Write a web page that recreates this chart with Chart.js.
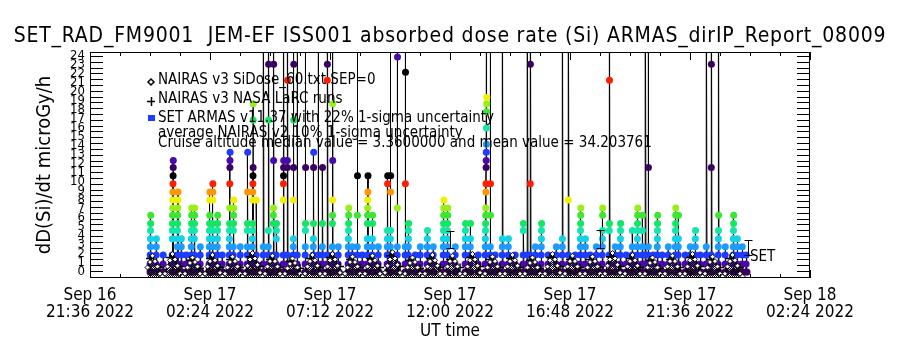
<!DOCTYPE html>
<html>
<head>
<meta charset="utf-8">
<script src="https://cdn.jsdelivr.net/npm/chart.js@4.4.1/dist/chart.umd.min.js"></script>
<style>
  html, body { margin: 0; padding: 0; background: #fff; }
</style>
</head>
<body>
<canvas id="chart" width="900" height="350"></canvas>
<script>
// Zeit in Stunden ab Sep 16 2022 21:36 UT
const startUTC = Date.UTC(2022, 8, 16, 21, 36);
const xTickHours = [0, 4.8, 9.6, 14.4, 19.2, 24, 28.8];
const yTickValues = [0, 1, 2, 3, 4, 5, 6, 7, 8, 9, 10, 11, 12, 13, 14, 15, 16, 17, 18, 19, 20, 21, 22, 23, 24];

// SET ARMAS: Durchgänge (Startzeit) und die Dosiswerte jedes Durchgangs
const armasPassTimes = [
  2.40, 2.64, 2.92, 3.28, 3.48, 3.64, 3.84, 4.04, 4.16, 4.40, 4.76, 4.88, 5.08, 5.28, 5.56, 5.72, 6.00, 6.28, 6.48, 6.64,
  6.92, 7.12, 7.32, 7.44, 7.72, 7.88, 8.12, 8.28, 8.60, 8.92, 9.12, 9.28, 9.48, 9.68, 9.92, 10.32, 10.48, 10.68, 10.88, 11.08,
  11.28, 11.52, 11.88, 12.00, 12.28, 12.60, 12.72, 13.00, 13.20, 13.48, 13.72, 14.12, 14.28, 14.60, 15.00, 15.20, 15.52, 15.80, 16.00, 16.20,
  16.48, 16.72, 17.00, 17.32, 17.48, 17.60, 17.80, 18.04, 18.32, 18.64, 18.88, 19.12, 19.40, 19.60, 19.80, 20.00, 20.24, 20.48, 20.76, 21.00,
  21.20, 21.44, 21.68, 21.88, 22.08, 22.20, 22.32, 22.52, 22.68, 22.88, 23.12, 23.40, 23.52, 23.80, 24.00, 24.20, 24.40, 24.64, 24.84, 25.12,
  25.40, 25.72, 25.88, 26.08, 26.24
];
const armasPassDoses = [
  [0.9,1.9,2.8,3.7,4.6,5.4,6.3], [0.9,1.9,2.8,3.7], [0.9,1.9],
  [0.9,1.9,3.7,4.6,5.4,6.3,7.1,8.0,8.9,9.8,10.7,11.6,12.4], [0.9,1.9,2.8,3.7,4.6,5.4,6.3,7.1,8.0,8.9],
  [0.9,1.9,2.8,3.7], [0.9,1.9], [0.9,1.9,2.8,3.7,4.6,5.4,6.3,7.1], [0.9,1.9,3.7,4.6,5.4,6.3,7.1], [0.9,1.9,2.8],
  [0.9,1.9,2.8,3.7,4.6,5.4,6.3,8.0,8.9], [0.9,1.9,2.8,3.7,4.6,5.4,8.0,8.9,9.8], [0.9,1.9,2.8,3.7,4.6,5.4,6.3], [0.9,1.9],
  [0.9,1.9,2.8,3.7,4.6,5.4,7.1,9.8,11.6,12.4,13.3], [0.9,1.9,2.8,4.6,5.4,6.3,7.1,8.0], [0.9,1.9,2.8],
  [0.9,1.9,2.8,4.6,5.4,8.9,13.3], [0.9,1.9,2.8,3.7,4.6,5.4,8.0,8.9,9.8,10.7,11.6,16.9,18.7], [0.9,1.9,8.0],
  [0.9,1.9,2.8,40], [0.9,1.9,2.8,4.6,16.9,23.1,40], [0.9,1.9,5.4,6.3,7.1,12.4,23.1,40], [0.9,1.9,3.7,4.6,5.4],
  [0.9,1.9,8.0,9.8,10.7,11.6,12.4,40], [0.9,1.9,11.6,12.4,21.3,40], [0.9,1.9,2.8,3.7,8.0,11.6,16.9,23.1,40], [0.9,1.9,40],
  [0.9,1.9,2.8,4.6,5.4,11.6,40], [0.9,1.9,2.8,3.7,5.4,11.6,13.3], [0.9,1.9,40], [0.9,1.9,2.8,5.4,11.6],
  [0.9,1.9,21.3,23.1,40], [0.9,1.9,2.8,5.4,6.3,8.0,12.4,18.7,40], [0.9,1.9,2.8], [0.9,1.9,2.8,3.7,4.6,5.4,6.3,7.1],
  [0.9,1.9,2.8], [0.9,1.9,2.8,6.3,10.7,40], [0.9,1.9], [0.9,1.9,2.8,3.7,5.4,6.3,7.1,8.0,8.9,10.7],
  [0.9,1.9,2.8,3.7,5.4,6.3], [0.9,1.9,2.8], [0.9,1.9,2.8,3.7,4.6,9.8,10.7], [0.9,1.9,2.8,3.7,4.6,8.9,10.7,40],
  [0.9,1.9,2.8,7.1,23.9,40], [0.9,1.9,2.8,9.8,22.2,40], [0.9,1.9,2.8,3.7,4.6,5.4], [0.9,1.9], [0.9,1.9,2.8],
  [0.9,1.9,2.8,3.7,4.6], [0.9,1.9,2.8], [0.9,1.9,2.8,3.7,4.6,5.4,6.3,7.1,8.0], [0.9,1.9,2.8,3.7,4.6,5.4,6.3,7.1],
  [0.9,1.9,2.8], [0.9,1.9,2.8,3.7,4.6,5.4], [0.9,1.9,2.8,3.7,5.4], [0.9,1.9],
  [0.9,1.9,2.8,3.7,4.6,5.4,6.3,7.1,8.9,9.8,11.6,12.4,13.3,14.2,16.0,17.8,18.7,19.4,40], [0.9,1.9,2.8,6.3,9.8,40], [0.9,1.9],
  [0.9,1.9,2.8,3.7,40], [0.9,1.9,2.8,3.7], [0.9,1.9], [0.9,1.9,4.6,5.4], [0.9,1.9,40], [0.9,1.9,9.8,23.1,40],
  [0.9,1.9,2.8], [0.9,1.9,2.8,3.7,4.6,5.4], [0.9,1.9], [0.9,1.9,2.8], [0.9,1.9,2.8,3.7,40], [0.9,1.9,8.0,40],
  [0.9,1.9], [0.9,1.9,2.8,3.7,4.6,5.4,6.3,7.1], [0.9,1.9,2.8,3.7], [0.9,1.9], [0.9,1.9,2.8],
  [0.9,1.9,2.8,3.7,4.6,6.3,7.1], [0.9,1.9,4.6,5.4,21.3,40], [0.9,1.9,2.8], [0.9,1.9,2.8,3.7,4.6,5.4], [0.9,1.9],
  [0.9,1.9,2.8,4.6], [0.9,1.9,2.8,3.7,4.6,5.4,6.3,7.1], [0.9,1.9,2.8,4.6,6.3], [0.9,1.9,40], [0.9,1.9,2.8,11.6,40],
  [0.9,1.9], [0.9,1.9,2.8,3.7,4.6,5.4,6.3], [0.9,1.9], [0.9,1.9,2.8], [0.9,1.9,2.8,3.7,4.6,5.4,6.3,7.1],
  [0.9,1.9,2.8,3.7,6.3], [0.9,1.9], [0.9,1.9,2.8], [0.9,1.9,2.8,3.7,4.6], [0.9,1.9], [0.9,1.9,2.8,40],
  [0.9,1.9,11.6,23.1,40], [0.9,1.9,2.8,3.7,4.6,6.3,40], [0.9,1.9,2.8], [0.9,1.9,2.8,3.7,4.6,5.4,6.3],
  [0.9,1.9,2.8,3.7], [0.9,1.9,2.8], [0.9,1.9]
];

// NAIRAS v3 SiDose (alle 0.1 h ab 2.3 h)
const nairasStart = 2.3;
const nairasStep = 0.1;
const nairasDose = [
  0.5,1.1,1.8,1.2,0.6,-0.2,-0.5,
  -0.2,0.6,1.3,2.0,1.4,0.7,-0.2,-0.5,  -0.2,0.5,1.0,1.6,1.1,0.6,-0.2,-0.5,  -0.2,0.6,1.2,1.9,1.3,0.7,-0.1,-0.5,
  -0.2,0.5,1.1,1.7,1.2,0.6,-0.2,-0.5,  -0.2,0.7,1.4,2.1,1.5,0.8,-0.1,-0.5,  -0.2,0.6,1.2,1.8,1.2,0.6,-0.2,-0.5,
  -0.2,0.4,0.9,1.5,1.0,0.5,-0.2,-0.5,  -0.2,0.6,1.2,1.9,1.3,0.7,-0.2,-0.5,  -0.2,0.6,1.3,2.0,1.4,0.7,-0.1,-0.5,
  -0.2,0.5,1.1,1.7,1.1,0.6,-0.2,-0.5,  -0.2,0.6,1.2,1.8,1.3,0.7,-0.2,-0.5,  -0.1,0.7,1.4,2.2,1.5,0.8,-0.1,-0.5,
  -0.2,0.5,1.0,1.6,1.1,0.5,-0.2,-0.5,  -0.2,0.6,1.2,1.9,1.3,0.7,-0.2,-0.5,  -0.2,0.6,1.2,1.8,1.2,0.6,-0.2,-0.5,
  -0.2,0.6,1.3,2.0,1.4,0.7,-0.1,-0.5,  -0.2,0.5,1.1,1.7,1.2,0.6,-0.2,-0.5,  -0.2,0.6,1.2,1.9,1.3,0.7,-0.2,-0.5,
  -0.2,0.5,1.0,1.6,1.1,0.5,-0.2,-0.5,  -0.2,0.6,1.3,2.0,1.4,0.7,-0.1,-0.5,  -0.2,0.6,1.2,1.8,1.2,0.6,-0.2,-0.5,
  -0.2,0.5,1.1,1.7,1.2,0.6,-0.2,-0.5,  -0.2,0.7,1.4,2.1,1.5,0.8,-0.1,-0.5,  -0.2,0.6,1.2,1.9,1.3,0.7,-0.2,-0.5,
  -0.2,0.5,1.0,1.6,1.1,0.5,-0.2,-0.5,  -0.2,0.6,1.2,1.8,1.2,0.6,-0.2,-0.5,  -0.2,0.6,1.3,2.0,1.4,0.7,-0.1,-0.5,
  -0.2,0.5,1.1,1.7,1.2,0.6,-0.2,-0.5,  -0.2,0.6,1.2,1.9,1.3,0.7,-0.2,-0.5
];

// NAIRAS v3 NASA LaRC (alle 0.4 h ab 2.4 h)
const larcStart = 2.4;
const larcStep = 0.4;
const larcDose = [
  1.5,0.5, 1.6,0.6, 1.3,0.4, 1.5,0.5, 1.4,0.5, 1.7,0.6, 1.4,0.5, 1.2,0.4, 1.5,0.5, 1.6,0.6,
  1.4,0.5, 1.5,0.5, 1.8,0.6, 1.3,0.4, 1.5,0.5, 1.4,0.5, 1.6,0.6, 1.4,0.5, 1.5,0.5, 1.3,0.4,
  1.6,0.6, 1.4,0.5, 1.4,0.5, 1.7,0.6, 1.5,0.5, 1.3,0.4, 1.4,0.5, 1.6,0.6, 1.4,0.5, 1.5,0.5
];

// Fehlerbalken (average NAIRAS 10%)
const errTimes = [14.4, 20.4, 26.3];
const errLow = [2.7, 2.7, 1.9];
const errHigh = [4.6, 4.7, 3.5];

const fontFam = '"DejaVu Sans Condensed", "Liberation Sans Narrow", "DejaVu Sans", sans-serif';
Chart.defaults.font.family = fontFam;
Chart.defaults.color = '#000';

// Farbtabelle wiederholt sich alle 13 Stufen
const dosePalette = ['#3c0064', '#4a08b0', '#1e3cff', '#1e9bff', '#14d2e6', '#14e6aa', '#14e664',
                     '#3ce632', '#96f014', '#f0f000', '#ff9600', '#ff1e00', '#000000'];
function doseColor(v) {
  const k = Math.round(v / 0.885);
  return dosePalette[k % 13];
}

const armasPoints = [];
armasPassTimes.forEach((t, i) => {
  armasPoints.push({ x: t, y: 0 });
  armasPassDoses[i].forEach((v, j) => armasPoints.push({ x: t + 0.004 * (j + 1), y: v }));
  armasPoints.push({ x: t + 0.04, y: 0 });
});
const nairasPoints = nairasDose.map((v, i) => ({ x: nairasStart + nairasStep * i, y: v }));
const larcPoints = larcDose.map((v, i) => ({ x: larcStart + larcStep * i, y: v }));

// Schachbrettmuster für die NAIRAS-Dreiecke
const canvas = document.getElementById('chart');
const pc = document.createElement('canvas');
pc.width = 2; pc.height = 2;
const pctx = pc.getContext('2d');
pctx.fillStyle = '#000';
pctx.fillRect(0, 0, 1, 1);
pctx.fillRect(1, 1, 1, 1);
const checker = canvas.getContext('2d').createPattern(pc, 'repeat');

function fmtTick(h) {
  const d = new Date(startUTC + Math.round(h * 60) * 60000);
  const mon = ['Jan','Feb','Mar','Apr','May','Jun','Jul','Aug','Sep','Oct','Nov','Dec'][d.getUTCMonth()];
  const dd = String(d.getUTCDate()).padStart(2, '0');
  const hh = String(d.getUTCHours()).padStart(2, '0');
  const mm = String(d.getUTCMinutes()).padStart(2, '0');
  return [mon + ' ' + dd, hh + ':' + mm + ' ' + d.getUTCFullYear()];
}

// Rahmen, Ticks nach innen, Texte
const idlPlugin = {
  id: 'idlFrame',
  afterDatasetsDraw(chart) {
    const { ctx, chartArea: a, scales: { x, y } } = chart;
    ctx.save();
    ctx.strokeStyle = '#000';
    ctx.lineWidth = 1;
    ctx.strokeRect(a.left + 0.5, a.top + 0.5, a.right - a.left - 1, a.bottom - a.top - 1);
    ctx.beginPath();
    for (let h = 0; h <= 28.8 + 1e-6; h += 1.2) {
      const px = Math.round(x.getPixelForValue(h)) + 0.5;
      const major = Math.abs(h / 4.8 - Math.round(h / 4.8)) < 1e-6;
      const len = major ? 8 : 4;
      ctx.moveTo(px, a.bottom); ctx.lineTo(px, a.bottom - len);
      ctx.moveTo(px, a.top); ctx.lineTo(px, a.top + len);
    }
    for (let v = 24; v >= y.min; v -= 0.645) {
      const py = Math.round(y.getPixelForValue(v)) + 0.5;
      ctx.moveTo(a.left, py); ctx.lineTo(a.left + 13, py);
      ctx.moveTo(a.right, py); ctx.lineTo(a.right - 13, py);
    }
    // Fehlerbalken
    errTimes.forEach((t, i) => {
      const px = Math.round(x.getPixelForValue(t)) + 0.5;
      const y1 = Math.round(y.getPixelForValue(errLow[i])) + 0.5;
      const y2 = Math.round(y.getPixelForValue(errHigh[i])) + 0.5;
      ctx.moveTo(px, y1); ctx.lineTo(px, y2);
      ctx.moveTo(px - 4, y1); ctx.lineTo(px + 4, y1);
      ctx.moveTo(px - 4, y2); ctx.lineTo(px + 4, y2);
    });
    ctx.stroke();

    // Titel
    ctx.fillStyle = '#000';
    ctx.textBaseline = 'middle';
    ctx.textAlign = 'center';
    ctx.font = '21px ' + fontFam;
    ctx.letterSpacing = '0.8px';
    ctx.fillText('SET_RAD_FM9001  JEM-EF ISS001 absorbed dose rate (Si) ARMAS_dirIP_Report_08009', 450, 37);
    ctx.letterSpacing = '0px';

    // Legende
    ctx.textAlign = 'left';
    ctx.font = '15px ' + fontFam;
    const lx = a.left + 68;
    ctx.fillText('NAIRAS v3 SiDose_60.txt SEP=0', lx, a.top + 28);
    ctx.fillText('NAIRAS v3 NASA LaRC runs', lx, a.top + 47);
    ctx.fillText('SET ARMAS v11.37 with 22% 1-sigma uncertainty', lx, a.top + 66);
    ctx.fillText('average NAIRAS v2 10% 1-sigma uncertainty', lx, a.top + 81);
    ctx.fillText('Cruise altitude median value = 3.3600000 and mean value = 34.203761', lx, a.top + 91);
    const sx = a.left + 61;
    ctx.beginPath();
    ctx.moveTo(sx, a.top + 27); ctx.lineTo(sx + 3, a.top + 30); ctx.lineTo(sx, a.top + 33); ctx.lineTo(sx - 3, a.top + 30); ctx.closePath();
    ctx.moveTo(sx - 4, a.top + 49.5); ctx.lineTo(sx + 4, a.top + 49.5);
    ctx.moveTo(sx + 0.5, a.top + 45); ctx.lineTo(sx + 0.5, a.top + 54);
    ctx.lineWidth = 1.5;
    ctx.stroke();
    ctx.fillStyle = '#1e3cff';
    ctx.fillRect(sx - 3, a.top + 63, 7, 6);

    ctx.fillStyle = '#000';
    ctx.fillText('SET', x.getPixelForValue(26.4), y.getPixelForValue(1.7));
    ctx.restore();
  }
};

new Chart(canvas, {
  type: 'scatter',
  data: {
    datasets: [
      {
        label: 'NAIRAS v3 SiDose_60.txt SEP=0',
        data: nairasPoints,
        showLine: true,
        borderColor: '#000',
        borderWidth: 1.5,
        fill: { target: { value: -0.67 } },
        backgroundColor: checker,
        pointStyle: 'rectRot',
        pointRadius: 2.5,
        pointBackgroundColor: '#fff',
        pointBorderColor: '#000',
        pointBorderWidth: 1
      },
      {
        label: 'NAIRAS v3 NASA LaRC runs',
        data: larcPoints,
        showLine: false,
        pointStyle: 'cross',
        pointRadius: 4,
        pointBorderColor: '#000',
        pointBorderWidth: 1.5
      },
      {
        label: 'SET ARMAS v11.37',
        data: armasPoints,
        showLine: true,
        borderColor: '#000',
        borderWidth: 1,
        pointStyle: 'circle',
        pointRadius: 3.5,
        pointBorderWidth: 0,
        pointBackgroundColor: ctx => doseColor(ctx.raw ? ctx.raw.y : 0)
      }
    ]
  },
  options: {
    responsive: false,
    animation: false,
    devicePixelRatio: 1,
    events: [],
    layout: { padding: { top: 52, right: 90, left: 0, bottom: 0 } },
    plugins: { legend: { display: false }, tooltip: { enabled: false }, title: { display: false } },
    scales: {
      x: {
        type: 'linear',
        min: 0,
        max: 28.8,
        afterBuildTicks: s => { s.ticks = xTickHours.map(v => ({ value: v })); },
        afterFit: s => { s.height = 72; },
        grid: { display: false, drawTicks: false },
        border: { display: false },
        ticks: {
          autoSkip: false,
          maxRotation: 0,
          padding: 9,
          font: { size: 17, lineHeight: 1.0 },
          callback: v => fmtTick(v)
        },
        title: { display: true, text: 'UT time', font: { size: 17 }, padding: { top: 0, bottom: 8 } }
      },
      y: {
        min: -0.67,
        max: 24.45,
        afterBuildTicks: s => { s.ticks = yTickValues.map(v => ({ value: v })); },
        afterFit: s => { s.width = 90; },
        grid: { display: false, drawTicks: false },
        border: { display: false },
        ticks: { autoSkip: false, padding: 5, font: { size: 13 }, callback: v => String(v) },
        title: { display: true, text: 'dD(Si)/dt microGy/h', font: { size: 20 }, padding: { top: 33, bottom: 0 } }
      }
    }
  },
  plugins: [idlPlugin]
});
</script>
</body>
</html>
